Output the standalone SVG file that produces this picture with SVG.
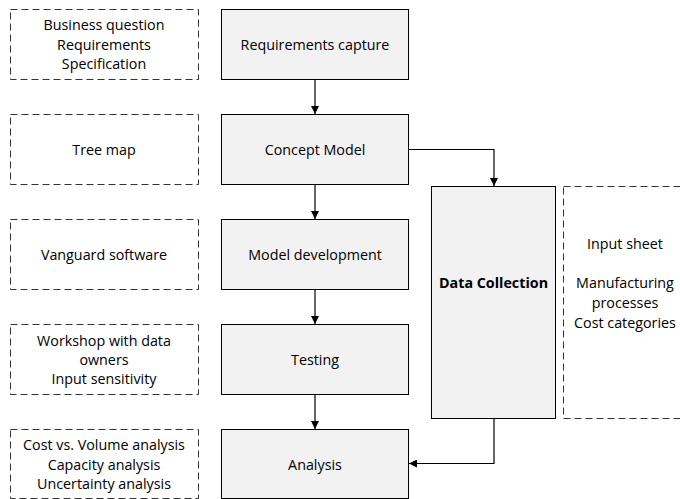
<svg xmlns="http://www.w3.org/2000/svg" width="680" height="499" viewBox="0 0 680 499">
<defs>
<marker id="ah" viewBox="0 0 10 10" refX="10" refY="5" markerWidth="8" markerHeight="8" markerUnits="userSpaceOnUse" orient="auto">
<path d="M0,0 L10,5 L0,10 z" fill="#000"/>
</marker>
<style>
.main{fill:#f2f2f2;stroke:#000;stroke-width:1}
.dash{fill:none;stroke:#333;stroke-width:1;stroke-dasharray:7,4}
text{font-family:"Open Sans","Liberation Sans",sans-serif;font-size:14.3px;fill:#000;text-anchor:middle}
.b{font-weight:bold}
.conn{fill:none;stroke:#000;stroke-width:1.2;marker-end:url(#ah)}
</style>
</defs>
<rect width="680" height="499" fill="#fff"/>
<g id="note1"><rect class="dash" x="10.5" y="9.5" width="188" height="70"/>
<text x="104" y="30">Business question</text><text x="104" y="50">Requirements</text><text x="104" y="69">Specification</text></g>
<g id="note2"><rect class="dash" x="10.5" y="114.5" width="188" height="70"/>
<text x="104" y="155">Tree map</text></g>
<g id="note3"><rect class="dash" x="10.5" y="219.5" width="188" height="70"/>
<text x="104" y="260">Vanguard software</text></g>
<g id="note4"><rect class="dash" x="10.5" y="324.5" width="188" height="70"/>
<text x="104" y="346">Workshop with data</text><text x="104" y="365">owners</text><text x="104" y="384">Input sensitivity</text></g>
<g id="note5"><rect class="dash" x="10.5" y="429.5" width="188" height="69"/>
<text x="104" y="450">Cost vs. Volume analysis</text><text x="104" y="470">Capacity analysis</text><text x="104" y="489">Uncertainty analysis</text></g>
<g id="note6"><rect class="dash" x="563.5" y="186.5" width="124" height="232"/>
<text x="625" y="249">Input sheet</text><text x="625" y="288">Manufacturing</text><text x="625" y="308">processes</text><text x="625" y="328">Cost categories</text></g>
<g id="req"><rect class="main" x="221.5" y="9.5" width="187" height="70"/><text x="315" y="50">Requirements capture</text></g>
<g id="concept"><rect class="main" x="221.5" y="114.5" width="187" height="70"/><text x="315" y="155">Concept Model</text></g>
<g id="dev"><rect class="main" x="221.5" y="219.5" width="187" height="70"/><text x="315" y="260">Model development</text></g>
<g id="test"><rect class="main" x="221.5" y="324.5" width="187" height="70"/><text x="315" y="365">Testing</text></g>
<g id="analysis"><rect class="main" x="221.5" y="429.5" width="187" height="69"/><text x="315" y="470">Analysis</text></g>
<g id="data"><rect class="main" x="431.5" y="186.5" width="124" height="232"/><text class="b" x="493.5" y="288">Data Collection</text></g>
<g id="connectors">
<path class="conn" d="M315,80 V114"/>
<path class="conn" d="M315,185 V219"/>
<path class="conn" d="M315,290 V324"/>
<path class="conn" d="M315,395 V429"/>
<path class="conn" d="M409,149.5 H494 V186"/>
<path class="conn" d="M494,419 V463.5 H409"/>
</g>
</svg>
